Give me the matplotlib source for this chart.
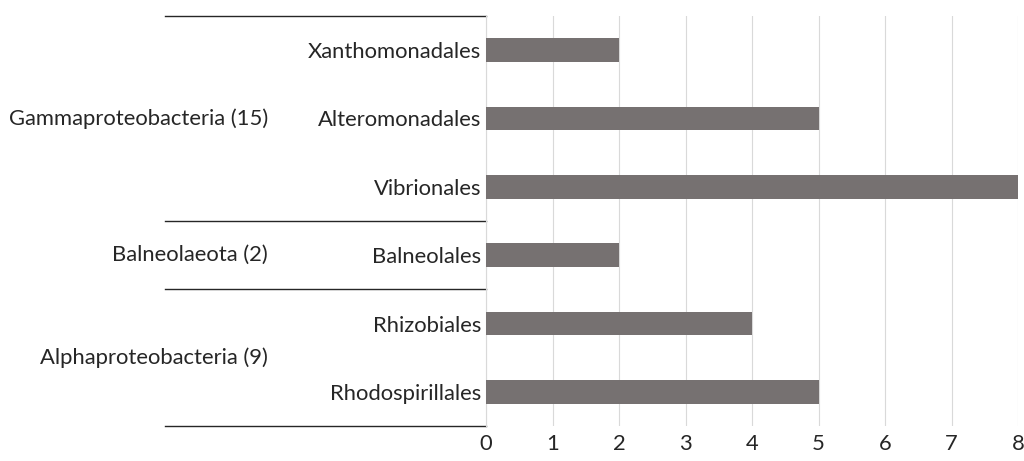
import matplotlib
matplotlib.use("Agg")
import matplotlib.pyplot as plt
import matplotlib.transforms as mtransforms

plt.rcParams['font.family'] = ['Lato', 'DejaVu Sans']

# Data (top to bottom as displayed)
orders = ["Xanthomonadales", "Alteromonadales", "Vibrionales",
          "Balneolales", "Rhizobiales", "Rhodospirillales"]
counts = [2, 5, 8, 2, 4, 5]
groups = ["Gammaproteobacteria (15)", "Balneolaeota (2)", "Alphaproteobacteria (9)"]
group_sizes = [3, 1, 2]
xticks = [0, 1, 2, 3, 4, 5, 6, 7, 8]

FS = 15.8
TC = "#262626"

fig = plt.figure(figsize=(10.24, 4.61), dpi=100)
ax = fig.add_axes([486/1024, 35/461, 532/1024, 410/461])

n = len(orders)
ypos = [n - 1 - i for i in range(n)]
ax.barh(ypos, counts, height=0.35, color="#767171", zorder=3)

ax.set_xlim(0, 8)
ax.set_ylim(-0.5, n - 0.5)
ax.set_xticks(xticks)
ax.set_xticklabels([str(t) for t in xticks], fontsize=FS, color=TC)
ax.set_yticks(ypos)
ax.set_yticklabels(orders, fontsize=FS, color=TC)
ax.tick_params(axis='both', length=0, pad=3.5)
ax.tick_params(axis='x', pad=6)
ax.grid(axis='x', color="#d9d9d9", linewidth=0.8, zorder=0)
for s in ["top", "right", "bottom"]:
    ax.spines[s].set_visible(False)
ax.spines["left"].set_color("#d9d9d9")
ax.spines["left"].set_linewidth(0.8)

trans = mtransforms.blended_transform_factory(ax.transAxes, ax.transData)
x_line_start = (165 - 486) / 532
x_group_right = (268 - 486) / 532

# separators and group labels
top = n - 0.5
ax.plot([x_line_start, 0], [top, top], transform=trans, color="#262626",
        linewidth=1, clip_on=False)
idx = 0
for g, size in zip(groups, group_sizes):
    y_top = n - 0.5 - idx
    y_bot = y_top - size
    ax.plot([x_line_start, 0], [y_bot, y_bot], transform=trans, color="#262626",
            linewidth=1, clip_on=False)
    ax.text(x_group_right, (y_top + y_bot) / 2, g, transform=trans,
            ha='right', va='center', fontsize=FS, color=TC)
    idx += size

fig.savefig("out.png", dpi=100, facecolor="white")
